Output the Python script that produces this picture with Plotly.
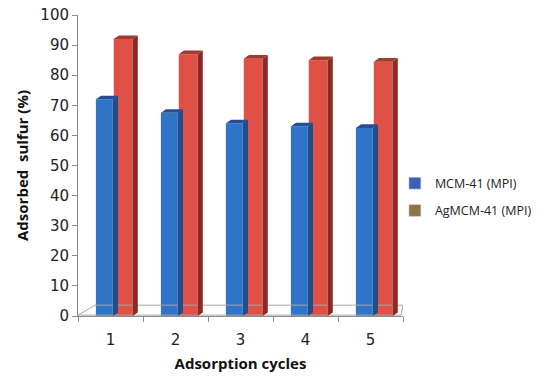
import plotly.graph_objects as go

cycles = [1, 2, 3, 4, 5]
cycle_labels = ["1", "2", "3", "4", "5"]
mcm41 = [72, 67.5, 64, 63, 62.5]
agmcm41 = [92, 87, 85.5, 85, 84.5]
series_names = ["MCM-41 (MPI)", "AgMCM-41 (MPI)"]
y_ticks = [0, 10, 20, 30, 40, 50, 60, 70, 80, 90, 100]

FONT = "Open Sans"
TICKFONT = "DejaVu Sans"
BLUE_FRONT = "#2F74C6"
BLUE_TOP = "#2A4C96"
BLUE_SIDE = "#1F4E8C"
RED_FRONT = "#DF5147"
RED_TOP = "#9E3B2C"
RED_SIDE = "#8E2A22"
LEG_BLUE = "#3E5FB8"
LEG_BROWN = "#8E7446"

# bar geometry (in axis units)
blue_off, blue_w = -0.225, 0.26
red_off, red_w = 0.05, 0.29
dx, dy = 0.08, 1.2

fig = go.Figure()

# floor
fx = [0.5, 0.76, 5.5, 5.47, 0.5]
fy = [0.3, 3.6, 3.6, 0.3, 0.3]
fig.add_trace(go.Scatter(x=fx, y=fy, mode="lines", line=dict(color="#A6A6A6", width=1),
                         fill="toself", fillcolor="rgba(255,255,255,0)",
                         hoverinfo="skip", showlegend=False))


def faces(xs, vals, off, w):
    tx, ty, sx, sy = [], [], [], []
    for x, v in zip(xs, vals):
        x0 = x + off
        x1 = x0 + w
        tx += [x0, x1, x1 + dx, x0 + dx, x0, None]
        ty += [v, v, v + dy, v + dy, v, None]
        sx += [x1, x1 + dx, x1 + dx, x1, x1, None]
        sy += [0, dy, v + dy, v, 0, None]
    return tx, ty, sx, sy


for vals, off, w, front, top, side in [
    (mcm41, blue_off, blue_w, BLUE_FRONT, BLUE_TOP, BLUE_SIDE),
    (agmcm41, red_off, red_w, RED_FRONT, RED_TOP, RED_SIDE),
]:
    tx, ty, sx, sy = faces(cycles, vals, off, w)
    fig.add_trace(go.Scatter(x=sx, y=sy, mode="lines", line=dict(width=0, color=side),
                             fill="toself", fillcolor=side, hoverinfo="skip", showlegend=False))
    fig.add_trace(go.Bar(x=cycles, y=vals, offset=off, width=w, marker=dict(color=front, line=dict(width=0)),
                         showlegend=False))
    fig.add_trace(go.Scatter(x=tx, y=ty, mode="lines", line=dict(width=0, color=top),
                             fill="toself", fillcolor=top, hoverinfo="skip", showlegend=False))

# legend entries
for i, (name, col) in enumerate(zip(series_names, [LEG_BLUE, LEG_BROWN])):
    fig.add_trace(go.Bar(x=[None], y=[None], name=name, marker=dict(color=col),
                         legendgroup=f"g{i}", showlegend=True))

fig.update_layout(
    width=550, height=384,
    margin=dict(l=78, r=147, t=15, b=68, autoexpand=False),
    paper_bgcolor="white", plot_bgcolor="white",
    barmode="overlay",
    font=dict(family=FONT, color="#222222", size=14),
    showlegend=True,
    legend=dict(x=0.975, y=0.49, xanchor="left", yanchor="top",
                font=dict(family=FONT, size=12.5, color="#222222"),
                itemwidth=30, tracegroupgap=8, bgcolor="rgba(0,0,0,0)"),
    xaxis=dict(range=[0.5, 5.5], tickvals=cycles, ticktext=cycle_labels, ticks="",
               showline=True, linecolor="#8C8C8C", linewidth=1, showgrid=False, zeroline=False,
               tickfont=dict(size=15, family=TICKFONT, color="#222222"),
               ticklabelstandoff=10,
               minor=dict(tickvals=[0.5, 1.5, 2.5, 3.5, 4.5, 5.5], ticks="outside", ticklen=5,
                          tickcolor="#8C8C8C", showgrid=False),
               title=dict(text="<b>Adsorption cycles</b>", standoff=10,
                          font=dict(size=15, family=FONT, color="#111111"))),
    yaxis=dict(range=[0, 100], tickvals=y_ticks, ticks="outside", ticklen=5, tickcolor="#8C8C8C",
               showline=True, linecolor="#8C8C8C", linewidth=1, showgrid=False, zeroline=False,
               tickfont=dict(size=15, family=TICKFONT, color="#222222"),
               title=dict(text="<b>Adsorbed  sulfur (%)</b>", standoff=8,
                          font=dict(size=15, family=FONT, color="#111111"))),
)

fig.write_html("out.html", config={"displayModeBar": False},
               post_script="document.body.style.margin='0px';document.body.style.padding='0px';")
